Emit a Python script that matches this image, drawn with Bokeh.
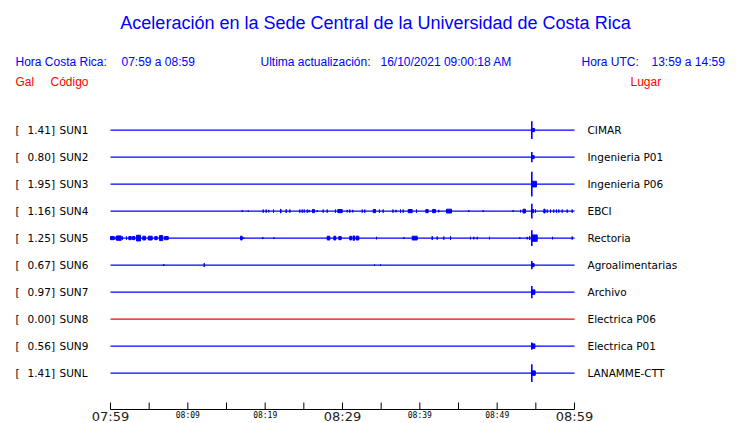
from bokeh.plotting import figure
from bokeh.models import Range1d, Label, ColumnDataSource
from bokeh.core.properties import value
from bokeh.embed import file_html
from bokeh.resources import INLINE

# ---------------- data ----------------
codes = ["SUN1", "SUN2", "SUN3", "SUN4", "SUN5", "SUN6", "SUN7", "SUN8", "SUN9", "SUNL"]
places = ["CIMAR", "Ingenieria P01", "Ingenieria P06", "EBCI", "Rectoria",
          "Agroalimentarias", "Archivo", "Electrica P06", "Electrica P01", "LANAMME-CTT"]
peak_gal = [1.41, 0.80, 1.95, 1.16, 1.25, 0.67, 0.97, 0.00, 0.56, 1.41]
station_ok = [True, True, True, True, True, True, True, False, True, True]

window_minutes = 60            # 07:59 -> 08:59
event_minute = 54.48           # minutes after 07:59
coda_gal = [0.25, 0.25, 0.45, 0.25, 0.50, 0.25, 0.35, 0.00, 0.35, 0.35]
coda_minutes = [0.35, 0.30, 0.60, 0.25, 0.70, 0.30, 0.40, 0.00, 0.40, 0.45]

# bursts of ground noise: (start minute, end minute, amplitude in gal)
bursts_ebci = [
    (17.03, 17.03, 0.15), (17.81, 17.81, 0.10), (19.75, 19.75, 0.25), (20.13, 20.13, 0.25),
    (20.47, 20.47, 0.20), (21.08, 21.08, 0.25), (21.98, 22.05, 0.30), (22.72, 22.72, 0.30),
    (23.19, 23.19, 0.25), (24.48, 24.48, 0.25), (24.79, 24.79, 0.25), (25.05, 25.05, 0.25),
    (25.44, 25.44, 0.25), (25.69, 25.69, 0.20), (26.12, 26.38, 0.25), (26.73, 26.73, 0.15),
    (27.50, 27.50, 0.25), (28.02, 28.02, 0.25), (29.09, 29.09, 0.25), (29.39, 29.96, 0.25),
    (30.61, 30.61, 0.20), (30.94, 30.94, 0.25), (31.33, 31.33, 0.20), (32.55, 32.55, 0.25),
    (32.88, 32.88, 0.25), (33.97, 34.27, 0.25), (34.78, 34.78, 0.25), (35.26, 35.26, 0.25),
    (36.53, 36.53, 0.25), (36.92, 36.92, 0.20), (37.50, 37.50, 0.25), (37.85, 37.85, 0.25),
    (38.50, 39.01, 0.25), (39.57, 39.57, 0.25), (40.77, 41.08, 0.25), (41.64, 42.03, 0.25),
    (42.45, 42.45, 0.20), (43.45, 44.09, 0.30), (46.33, 46.33, 0.15), (48.19, 48.19, 0.15),
    (52.07, 52.07, 0.15), (53.02, 53.02, 0.20), (53.34, 53.66, 0.30), (54.96, 54.96, 0.25),
    (56.03, 56.20, 0.30), (56.47, 56.47, 0.25), (56.90, 56.90, 0.25), (57.32, 57.32, 0.25),
    (57.67, 57.67, 0.25), (57.97, 57.97, 0.25), (58.41, 58.41, 0.25), (59.06, 59.06, 0.25),
    (59.70, 59.70, 0.25),
]
bursts_rectoria = [
    (0.00, 0.43, 0.25), (0.56, 0.56, 0.25), (0.78, 1.38, 0.35), (1.55, 1.55, 0.25),
    (2.07, 2.07, 0.25), (2.37, 2.68, 0.25), (2.84, 3.14, 0.25), (3.36, 3.88, 0.45),
    (4.18, 4.53, 0.30), (4.88, 5.39, 0.30), (5.73, 6.04, 0.25), (6.34, 6.76, 0.40),
    (6.98, 7.46, 0.25), (16.81, 17.03, 0.30), (17.24, 17.24, 0.10), (19.69, 19.69, 0.15),
    (21.12, 21.12, 0.12), (28.02, 28.36, 0.30), (28.88, 29.13, 0.30), (29.52, 29.83, 0.25),
    (30.94, 31.16, 0.30), (31.36, 31.55, 0.35), (31.75, 32.11, 0.30), (34.40, 34.40, 0.20),
    (37.93, 37.93, 0.15), (39.01, 39.66, 0.30), (41.60, 41.60, 0.30), (42.25, 42.25, 0.25),
    (43.10, 43.10, 0.25), (43.97, 43.97, 0.30), (46.55, 46.55, 0.20), (46.98, 46.98, 0.20),
    (47.42, 47.42, 0.20), (49.01, 49.01, 0.20), (52.93, 52.93, 0.15), (53.88, 53.88, 0.20),
    (54.20, 54.20, 0.30), (57.16, 57.16, 0.20), (59.70, 59.70, 0.25),
]
bursts_agro = [(6.89, 6.89, 0.15), (12.12, 12.12, 0.30), (34.14, 34.14, 0.10), (34.91, 34.91, 0.10)]
bursts_by_station = {"SUN4": bursts_ebci, "SUN5": bursts_rectoria, "SUN6": bursts_agro}

major_tick_min = [0, 30, 60]
major_tick_lbl = ["07:59", "08:29", "08:59"]
minor_tick_min = [10, 20, 40, 50]
minor_tick_lbl = ["08:09", "08:19", "08:39", "08:49"]
plain_tick_min = [5, 15, 25, 35, 45, 55]

# ---------------- layout ----------------
W, H = 740, 423
LEFT_PX, RIGHT_PX = 110, 574
ROW0_PX, ROW_PX = 129.6, 27
px_per_min = (RIGHT_PX - LEFT_PX) / window_minutes
GAIN = 6.3 / ROW_PX          # rows per gal
AXIS_ROW = (409 - ROW0_PX) / ROW_PX
TICK_LEN = 7 / ROW_PX

BLUE = "#0000ff"
RED = "#ff0000"

p = figure(width=W, height=H, output_backend="svg", toolbar_location=None,
           x_range=Range1d(-LEFT_PX / px_per_min, (W - LEFT_PX) / px_per_min),
           y_range=Range1d((H - ROW0_PX) / ROW_PX, -ROW0_PX / ROW_PX),
           x_axis_location=None, y_axis_location=None, min_border=0)
p.outline_line_color = None
p.grid.visible = False
p.background_fill_color = "white"
p.border_fill_color = "white"

rows = list(range(len(codes)))
colors = [BLUE if ok else RED for ok in station_ok]

# baselines
p.segment(x0=[0] * len(rows), x1=[window_minutes] * len(rows), y0=rows, y1=rows,
          line_color=colors, line_width=1.3)

# noise bursts
bl, br, bt, bb = [], [], [], []
for i, c in enumerate(codes):
    for t0, t1, a in bursts_by_station.get(c, []):
        bl.append(t0); br.append(t1)
        bt.append(i - a * GAIN); bb.append(i + a * GAIN)
p.quad(left=bl, right=br, top=bt, bottom=bb, fill_color=BLUE, line_color=BLUE, line_width=1)

# event: main spike + coda
ev_rows = [i for i in rows if peak_gal[i] > 0]
p.segment(x0=[event_minute] * len(ev_rows), x1=[event_minute] * len(ev_rows),
          y0=[i - peak_gal[i] * GAIN for i in ev_rows], y1=[i + peak_gal[i] * GAIN for i in ev_rows],
          line_color=BLUE, line_width=1.6)
p.quad(left=[event_minute - 0.05] * len(ev_rows),
       right=[event_minute + coda_minutes[i] for i in ev_rows],
       top=[i - coda_gal[i] * GAIN for i in ev_rows], bottom=[i + coda_gal[i] * GAIN for i in ev_rows],
       fill_color=BLUE, line_color=BLUE, line_width=1)

# station labels
src = ColumnDataSource(dict(
    x0=[0] * len(rows), x1=[window_minutes] * len(rows), y=rows,
    br=["["] * len(rows), val=[f"{v:.2f}]" for v in peak_gal], code=codes, place=places))
lab_kw = dict(text_font=value("DejaVu Sans"), text_font_size="10.5px",
              text_baseline="middle", text_color="black", source=src)
p.text(x="x0", y="y", text="br", x_offset=-95, **lab_kw)
p.text(x="x0", y="y", text="val", x_offset=-83, **lab_kw)
p.text(x="x0", y="y", text="code", x_offset=-51, **lab_kw)
p.text(x="x1", y="y", text="place", x_offset=13, **lab_kw)

# time axis
p.segment(x0=[0], x1=[window_minutes], y0=[AXIS_ROW], y1=[AXIS_ROW], line_color="black", line_width=1)
all_ticks = major_tick_min + minor_tick_min + plain_tick_min
p.segment(x0=all_ticks, x1=all_ticks, y0=[AXIS_ROW] * len(all_ticks),
          y1=[AXIS_ROW - TICK_LEN] * len(all_ticks), line_color="black", line_width=1)
p.text(x=major_tick_min, y=[AXIS_ROW] * 3, text=major_tick_lbl, y_offset=7,
       text_font=value("DejaVu Sans"), text_font_size="13px", text_align="center",
       text_baseline="middle", text_color="#222222")
p.text(x=minor_tick_min, y=[AXIS_ROW] * 4, text=minor_tick_lbl, y_offset=6,
       text_font=value("DejaVu Sans Mono"), text_font_size="8px", text_align="center",
       text_baseline="middle", text_color="black")

# header
def hdr(x, y, txt, size="12px", color=BLUE, align="left"):
    p.add_layout(Label(x=x, y=H - y, x_units="screen", y_units="screen", text=txt,
                       text_font="Liberation Sans", text_font_size=size, text_color=color,
                       text_align=align, text_baseline="middle"))

hdr(375, 22, "Aceleración en la Sede Central de la Universidad de Costa Rica", size="18px", align="center")
hdr(15, 61, "Hora Costa Rica:")
hdr(121, 61, "07:59 a 08:59")
hdr(260, 61, "Ultima actualización:")
hdr(380, 61, "16/10/2021 09:00:18 AM")
hdr(581, 61, "Hora UTC:")
hdr(651, 61, "13:59 a 14:59")
hdr(15, 81, "Gal", color=RED)
hdr(50, 81, "Código", color=RED)
hdr(630, 81, "Lugar", color=RED)

open("out.html", "w").write(file_html(p, INLINE))
